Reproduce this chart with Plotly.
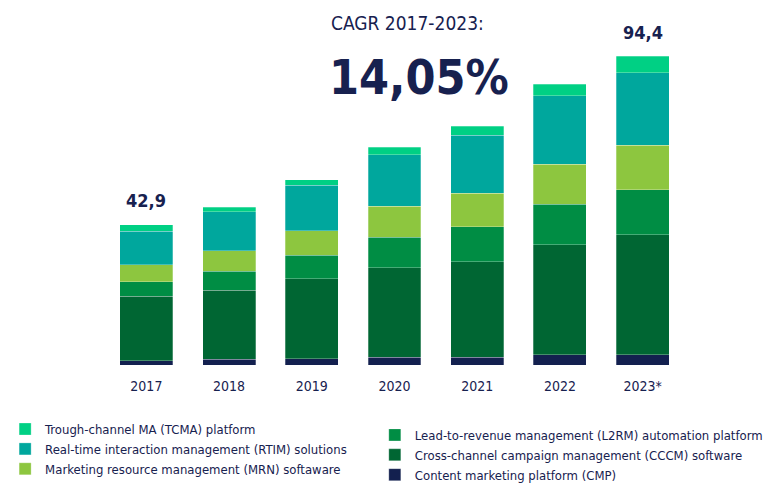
import plotly.graph_objects as go

years = ["2017", "2018", "2019", "2020", "2021", "2022", "2023*"]
cmp_vals = [1.3, 1.7, 1.9, 2.4, 2.4, 3.1, 3.2]
cccm_vals = [19.7, 21.2, 24.5, 27.4, 29.2, 33.6, 36.6]
l2rm_vals = [4.4, 5.8, 7.2, 9.3, 10.7, 12.4, 13.8]
mrn_vals = [5.3, 6.2, 7.4, 9.4, 10.2, 12.3, 13.6]
rtim_vals = [10.2, 11.9, 13.9, 15.8, 17.7, 20.9, 22.2]
tcma_vals = [2.0, 1.5, 1.7, 2.3, 2.8, 3.6, 5.0]
total_labels = {"2017": "42,9", "2023*": "94,4"}
cagr_title = "CAGR 2017-2023:"
cagr_value = "14,05%"

NAVY = "#17214f"
FONT = "DejaVu Sans Condensed, Liberation Sans Narrow, sans-serif"

series = [
    ("Content marketing platform (CMP)", cmp_vals, "#13204f", "legend2"),
    ("Cross-channel campaign management (CCCM) software", cccm_vals, "#006633", "legend2"),
    ("Lead-to-revenue management (L2RM) automation platform", l2rm_vals, "#008d44", "legend2"),
    ("Marketing resource management (MRN) softaware", mrn_vals, "#8dc63f", "legend"),
    ("Real-time interaction management (RTIM) solutions", rtim_vals, "#00a79d", "legend"),
    ("Trough-channel MA (TCMA) platform", tcma_vals, "#00d084", "legend"),
]

fig = go.Figure()
for name, vals, color, lg in series:
    fig.add_trace(go.Bar(
        x=years, y=vals, name=name, legend=lg,
        marker=dict(color=color, line=dict(color="rgba(255,255,255,0.45)", width=0.6)),
        hoverinfo="skip",
    ))

totals = [sum(v) for v in zip(cmp_vals, cccm_vals, l2rm_vals, mrn_vals, rtim_vals, tcma_vals)]
for i, (yr, tot) in enumerate(zip(years, totals)):
    if yr in total_labels:
        fig.add_annotation(x=i, y=tot, text="<b>%s</b>" % total_labels[yr], showarrow=False,
                           yshift=24, yanchor="middle",
                           font=dict(family=FONT, size=18, color=NAVY))

fig.add_annotation(xref="paper", yref="paper", x=0.387, y=1.046, text=cagr_title,
                   showarrow=False, xanchor="left", yanchor="middle",
                   font=dict(family=FONT, size=19, color=NAVY))
fig.add_annotation(xref="paper", yref="paper", x=0.384, y=0.88, text="<b>%s</b>" % cagr_value,
                   showarrow=False, xanchor="left", yanchor="middle",
                   font=dict(family=FONT, size=48, color=NAVY))

legend_font = dict(family=FONT, size=13, color=NAVY)
fig.update_layout(
    width=763, height=477,
    margin=dict(l=97, r=87, t=30, b=120, autoexpand=False),
    paper_bgcolor="white", plot_bgcolor="white",
    barmode="stack", bargap=0.36,
    showlegend=True,
    xaxis=dict(showgrid=False, showline=False, zeroline=False, ticks="outside", ticklen=8,
               tickcolor="rgba(0,0,0,0)", tickfont=dict(family=FONT, size=14, color=NAVY),
               range=[-0.5, 6.5]),
    yaxis=dict(visible=False, range=[0, 100]),
    legend=dict(x=-0.1725, y=-0.15, xanchor="left", yanchor="top", traceorder="reversed",
                font=legend_font, tracegroupgap=0, itemclick=False, bgcolor="rgba(0,0,0,0)"),
    legend2=dict(x=0.466, y=-0.168, xanchor="left", yanchor="top", traceorder="reversed",
                 font=legend_font, tracegroupgap=0, itemclick=False, bgcolor="rgba(0,0,0,0)"),
)

fig.write_html("out.html")
